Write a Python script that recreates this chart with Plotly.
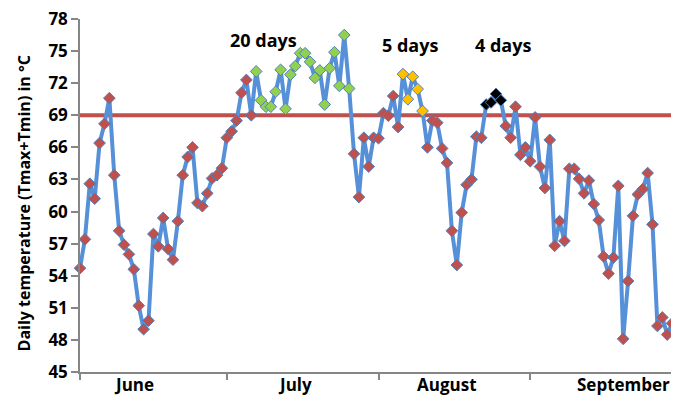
import pandas as pd
import plotly.graph_objects as go

# ---- data -------------------------------------------------------------
start_date = "2013-06-01"
end_date = "2013-09-30"

june = [54.7, 57.4, 62.6, 61.2, 66.4, 68.2, 70.6, 63.4, 58.2, 56.9,
        56.0, 54.6, 51.2, 49.0, 49.8, 57.9, 56.75, 59.4, 56.5, 55.5,
        59.1, 63.4, 65.1, 66.0, 60.8, 60.5, 61.7, 63.1, 63.4, 64.05]
july = [66.9, 67.5, 68.5, 71.1, 72.3, 69.0, 73.1, 70.4, 69.8, 69.8,
        71.2, 73.25, 69.6, 72.8, 73.6, 74.8, 74.8, 74.0, 72.5, 73.2,
        70.0, 73.4, 74.9, 71.75, 76.5, 71.5, 65.4, 61.35, 66.9, 64.2,
        66.9]
august = [66.85, 69.2, 68.96, 70.8, 67.9, 72.85, 70.5, 72.6, 71.45, 69.4,
          66.0, 68.5, 68.3, 65.9, 64.55, 58.2, 55.0, 59.9, 62.5, 63.0,
          67.0, 66.9, 70.0, 70.2, 71.0, 70.4, 68.0, 66.9, 69.8, 65.3,
          66.0]
september = [64.7, 68.8, 64.2, 62.2, 66.7, 56.8, 59.1, 57.25, 64.0, 64.0,
             63.06, 61.7, 62.9, 60.7, 59.2, 55.8, 54.2, 55.7, 62.4, 48.1,
             53.5, 59.6, 61.6, 62.1, 63.6, 58.8, 49.3, 50.1, 48.5, 49.55]

threshold = 69

# heat-wave events: (first day, number of days, marker colour, label)
events = [
    ("2013-07-07", 20, "#92D050", "20 days"),
    ("2013-08-06", 5, "#FFC000", "5 days"),
    ("2013-08-23", 4, "#000000", "4 days"),
]
# label positions (date, value)
label_pos = [("2013-07-08 12:00", 76.0), ("2013-08-07 12:00", 75.6),
             ("2013-08-26 12:00", 75.6)]

month_labels = ["June", "July", "August", "September"]
month_label_dates = ["2013-06-12", "2013-07-15", "2013-08-15", "2013-09-20"]
y_ticks = list(range(45, 79, 3))

# ---- figure -----------------------------------------------------------
dates = pd.date_range(start_date, end_date, freq="D")
values = june + july + august + september

base_color = "#C0504D"
colors = [base_color] * len(dates)
for ev_start, n, col, _ in events:
    i0 = list(dates).index(pd.Timestamp(ev_start))
    for k in range(i0, i0 + n):
        colors[k] = col

fig = go.Figure()
fig.add_trace(go.Scatter(
    x=dates, y=values, mode="lines+markers",
    line=dict(color="#5590D8", width=4),
    marker=dict(symbol="diamond", size=9, color=colors,
                line=dict(color="#4F81BD", width=1)),
    cliponaxis=False, showlegend=False,
))

fig.add_shape(type="line", xref="paper", x0=0, x1=1, yref="y",
              y0=threshold, y1=threshold,
              line=dict(color="#C0504D", width=4), layer="below")

bold18 = dict(family="Open Sans", size=18, color="#000000", weight="bold")
bold17 = dict(family="Open Sans", size=17, color="#000000", weight="bold")

for (ev_start, n, col, lab), (lx, ly) in zip(events, label_pos):
    fig.add_annotation(x=lx, y=ly, text=lab, showarrow=False, font=bold18,
                       xanchor="center", yanchor="middle")

for lab, d in zip(month_labels, month_label_dates):
    fig.add_annotation(x=d, xref="x", y=0, yref="paper", text=lab,
                       showarrow=False, font=bold17,
                       xanchor="center", yanchor="middle", yshift=-12)

fig.add_annotation(xref="paper", yref="paper", x=-0.094, y=0.48,
                   text="Daily temperature (Tmax+Tmin) in °C",
                   textangle=-90, showarrow=False,
                   font=dict(family="Open Sans", size=16, color="#000000",
                             weight="bold"),
                   xanchor="center", yanchor="middle")

axis_col = "#868686"
fig.update_layout(
    width=671, height=409,
    margin=dict(l=72, r=2, t=11, b=45, autoexpand=False),
    plot_bgcolor="white", paper_bgcolor="white",
    font=dict(family="Open Sans", color="#000000"),
    xaxis=dict(
        type="date",
        range=["2013-06-01", "2013-10-01"],
        dtick="M1", tick0="2013-06-01",
        showticklabels=False, automargin=False,
        ticks="outside", ticklen=6, tickcolor=axis_col, tickwidth=1.5,
        showline=True, linecolor=axis_col, linewidth=1.5,
        showgrid=False, zeroline=False,
    ),
    yaxis=dict(
        range=[45, 78], tickvals=y_ticks, automargin=False,
        ticks="outside", ticklen=7, tickcolor=axis_col, tickwidth=1.5,
        showline=True, linecolor=axis_col, linewidth=1.5,
        showgrid=False, zeroline=False,
        ticklabeloverflow="allow",
        tickfont=dict(family="Open Sans", size=17, color="#000000",
                      weight="bold"),
    ),
)

fig.write_html("out.html")
